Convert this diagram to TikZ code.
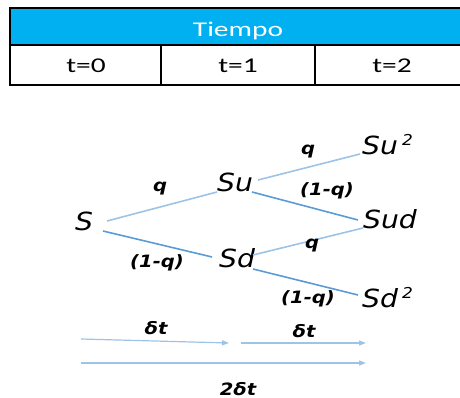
\documentclass[tikz,border=0pt]{standalone}
\usepackage{fontspec}
\usetikzlibrary{arrows.meta}
\newfontfamily\nodefont[FakeStretch=1.13]{DejaVu Sans}
\newfontfamily\labfont[FakeStretch=1.15]{DejaVu Sans}
\newfontfamily\tabfont[FakeStretch=1.4]{Carlito}
\definecolor{headblue}{HTML}{00B0F0}
\definecolor{lightline}{HTML}{9DC3E6}
\definecolor{darkline}{HTML}{5B9BD5}
\tikzset{
  st/.style={font=\nodefont\itshape\fontsize{25}{30}\selectfont, inner sep=0pt},
  lab/.style={font=\labfont\bfseries\itshape\fontsize{17}{20}\selectfont, inner sep=0pt},
  tab/.style={font=\tabfont\fontsize{21}{25}\selectfont, inner sep=0pt},
  lbr/.style={draw=lightline, line width=1.6pt},
  dbr/.style={draw=darkline, line width=1.6pt},
  tarr/.style={draw=lightline, line width=1.2pt, -{Triangle[length=7pt,width=5pt]}},
  grid/.style={draw=black, line width=1.5pt}
}
\newcommand{\suptwo}{\,\raisebox{9pt}{\fontsize{15}{18}\selectfont 2}}
\begin{document}
\begin{tikzpicture}[x=1pt,y=-1pt]
\path[use as bounding box] (0,0) rectangle (460,398);
% table
\fill[headblue] (10,8) rectangle (462,45);
\draw[grid] (462,8) -- (10,8) -- (10,85) -- (462,85);
\draw[grid] (10,45) -- (462,45);
\draw[grid] (161,45) -- (161,85);
\draw[grid] (315,45) -- (315,85);
\node[tab, text=white] (tiempo) at (238,31) {Tiempo};
\node[tab] (t0) at (86,66) {t=0};
\node[tab] (t1) at (238,66) {t=1};
\node[tab] (t2) at (392,66) {t=2};
% tree nodes (placed by baseline)
\node[st, anchor=base] (S) at (84,230) {S};
\node[st, anchor=base] (Su) at (235,192) {Su};
\node[st, anchor=base] (Sd) at (237,267) {Sd};
\node[st, anchor=base west] (Suu) at (362,155) {Su\suptwo};
\node[st, anchor=base] (Sud) at (390,228) {Sud};
\node[st, anchor=base west] (Sdd) at (362,307) {Sd\suptwo};
% branches
\draw[lbr] ([xshift=23pt,yshift=9pt]S.base) -- ([xshift=-18pt,yshift=0pt]Su.base);
\draw[dbr] ([xshift=19pt,yshift=-1pt]S.base) -- ([xshift=-25pt,yshift=10pt]Sd.base);
\draw[lbr] ([xshift=23pt,yshift=12pt]Su.base) -- ([xshift=-2pt,yshift=1pt]Suu.base west);
\draw[dbr] ([xshift=17pt,yshift=0pt]Su.base) -- ([xshift=-32pt,yshift=8pt]Sud.base);
\draw[lbr] ([xshift=16pt,yshift=12pt]Sd.base) -- ([xshift=-27pt,yshift=0pt]Sud.base);
\draw[dbr] ([xshift=16pt,yshift=-2pt]Sd.base) -- ([xshift=-4pt,yshift=12pt]Sdd.base west);
% labels
\node[lab] (q1) at (160,189) {q};
\node[lab] (q2) at (308,152) {q};
\node[lab] (q3) at (312,246) {q};
\node[lab] (p1) at (327,191) {(1-q)};
\node[lab] (p2) at (157,263) {(1-q)};
\node[lab] (p3) at (308,299) {(1-q)};
% time arrows
\coordinate (a0) at (81,339);
\coordinate (a1) at (229,343);
\coordinate (b0) at (241,343);
\coordinate (b1) at (366,343);
\coordinate (c0) at (81,363);
\coordinate (c1) at (366,363);
\draw[tarr] (a0) -- (a1);
\draw[tarr] (b0) -- (b1);
\draw[tarr] (c0) -- (c1);
\node[lab] (d1) at (156,328) {δt};
\node[lab] (d2) at (304,331) {δt};
\node[lab] (d3) at (238,389) {2δt};
\end{tikzpicture}
\end{document}
